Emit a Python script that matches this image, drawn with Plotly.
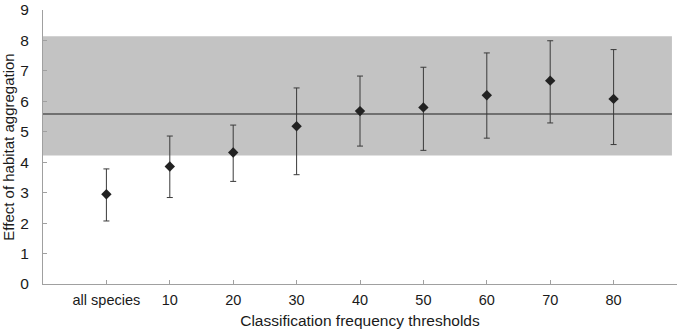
import plotly.graph_objects as go

categories = ["all species", "10", "20", "30", "40", "50", "60", "70", "80"]
effect = [2.95, 3.86, 4.32, 5.18, 5.68, 5.80, 6.20, 6.68, 6.08]
upper = [3.78, 4.86, 5.22, 6.44, 6.83, 7.12, 7.59, 7.99, 7.70]
lower = [2.07, 2.84, 3.37, 3.59, 4.53, 4.39, 4.79, 5.29, 4.58]
band_low = 4.22
band_high = 8.14
band_mean = 5.58
band_end = 8.92

x = list(range(len(categories)))
err_plus = [u - e for u, e in zip(upper, effect)]
err_minus = [e - l for e, l in zip(effect, lower)]

fig = go.Figure()
fig.add_shape(type="rect", x0=-1, x1=band_end, y0=band_low, y1=band_high,
              xref="x", yref="y", fillcolor="#c3c3c3", line=dict(width=0), layer="below")
fig.add_shape(type="line", x0=-1, x1=band_end, y0=band_mean, y1=band_mean,
              xref="x", yref="y", line=dict(color="#555555", width=1.5), layer="below")
fig.add_trace(go.Scatter(
    x=x, y=effect, mode="markers",
    marker=dict(symbol="diamond", size=8, color="#222222"),
    error_y=dict(type="data", symmetric=False, array=err_plus, arrayminus=err_minus,
                 color="#3a3a3a", thickness=1, width=3),
    showlegend=False,
))

font = "Liberation Sans, Arial, sans-serif"
fig.update_layout(
    width=680, height=334,
    margin=dict(l=43, r=3, t=10, b=50),
    paper_bgcolor="white", plot_bgcolor="white",
    font=dict(family=font, color="#1a1a1a"),
    xaxis=dict(
        range=[-1, 9], tickvals=x + [9], ticktext=categories + [""],
        ticks="inside", ticklen=4, tickcolor="#a0a0a0",
        showline=True, linecolor="#a0a0a0", linewidth=1,
        showgrid=False, zeroline=False, automargin=False,
        tickfont=dict(size=14.5), ticklabelstandoff=3,
        title=dict(text="Classification frequency thresholds", font=dict(size=15.5), standoff=7),
    ),
    yaxis=dict(
        range=[0, 9], tickvals=list(range(10)),
        ticks="inside", ticklen=4, tickcolor="#a0a0a0",
        showline=True, linecolor="#a0a0a0", linewidth=1,
        showgrid=False, zeroline=False, automargin=False,
        tickfont=dict(size=15.5), ticklabelstandoff=10,
        title=dict(text="Effect of habitat aggregation", font=dict(size=15), standoff=4),
    ),
)

fig.write_html("out.html", config={"displayModeBar": False},
               post_script="document.body.style.margin='0';")
